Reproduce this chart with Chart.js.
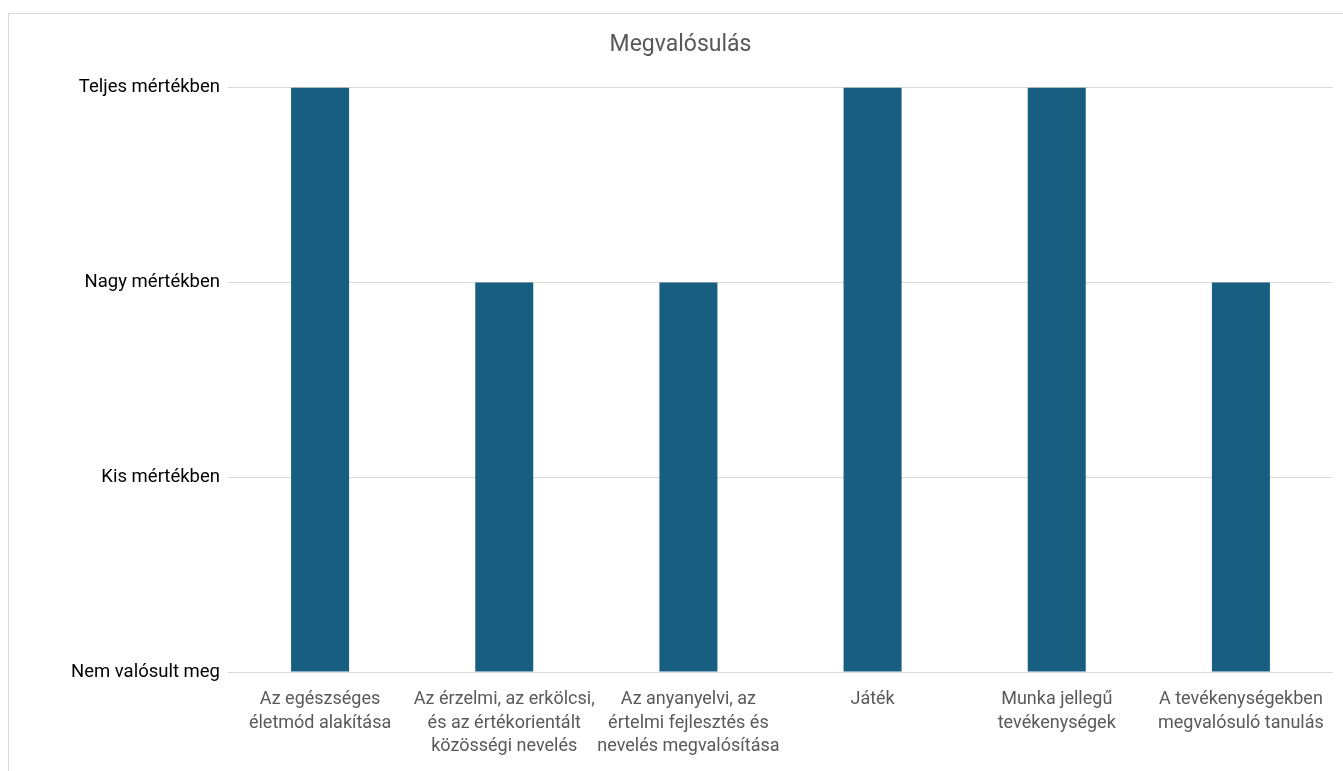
<!DOCTYPE html>
<html><head><meta charset="utf-8">
<script src="https://cdn.jsdelivr.net/npm/chart.js@4/dist/chart.umd.min.js"></script>
<style>
html,body{margin:0;padding:0;background:#fff;overflow:hidden;}
#frame{position:absolute;left:8px;top:13px;width:1400px;height:800px;border-left:1px solid #d9d9d9;border-top:1px solid #d9d9d9;}
#wrap{position:absolute;left:0;top:0;width:1343px;height:771px;}
</style></head>
<body>
<div id="frame"></div>
<div id="wrap"><canvas id="c"></canvas></div>
<script>
const categories = [
  ["Az egészséges", "életmód alakítása"],
  ["Az érzelmi, az erkölcsi,", "és az értékorientált", "közösségi nevelés"],
  ["Az anyanyelvi, az", "értelmi fejlesztés és", "nevelés megvalósítása"],
  ["Játék"],
  ["Munka jellegű", "tevékenységek"],
  ["A tevékenységekben", "megvalósuló tanulás"]
];
const values = [3, 2, 2, 3, 3, 2];
const levelLabels = ["Nem valósult meg", "Kis mértékben", "Nagy mértékben", "Teljes mértékben"];
const titleText = "Megvalósulás";

const FONT = "'Roboto', sans-serif";
new Chart(document.getElementById('c'), {
  type: 'bar',
  data: {
    labels: categories,
    datasets: [{
      data: values,
      backgroundColor: '#175E81',
      borderWidth: 0,
      categoryPercentage: 1,
      barPercentage: 0.315
    }]
  },
  options: {
    responsive: true,
    maintainAspectRatio: false,
    animation: false,
    devicePixelRatio: 1,
    layout: { padding: { left: 28, right: 10, top: 0, bottom: 0 } },
    plugins: {
      legend: { display: false },
      tooltip: { enabled: false },
      title: {
        display: true,
        text: titleText,
        color: '#595959',
        font: { family: FONT, size: 23, weight: 'normal' },
        padding: { top: 31, bottom: 29 }
      }
    },
    scales: {
      x: {
        grid: { display: false },
        border: { display: false },
        ticks: {
          color: '#595959',
          font: { family: FONT, size: 18, lineHeight: 1.3 },
          padding: 8,
          maxRotation: 0,
          autoSkip: false
        },
        afterFit: s => { s.height = 99; }
      },
      y: {
        min: 0, max: 3,
        grid: { color: '#d9d9d9', drawTicks: false, lineWidth: 1 },
        border: { display: false },
        ticks: {
          stepSize: 1,
          color: '#000',
          padding: 8,
          font: { family: FONT, size: 18.5 },
          callback: v => levelLabels[v]
        },
        afterFit: s => { s.width = 200; }
      }
    }
  }
});
</script>
</body></html>
